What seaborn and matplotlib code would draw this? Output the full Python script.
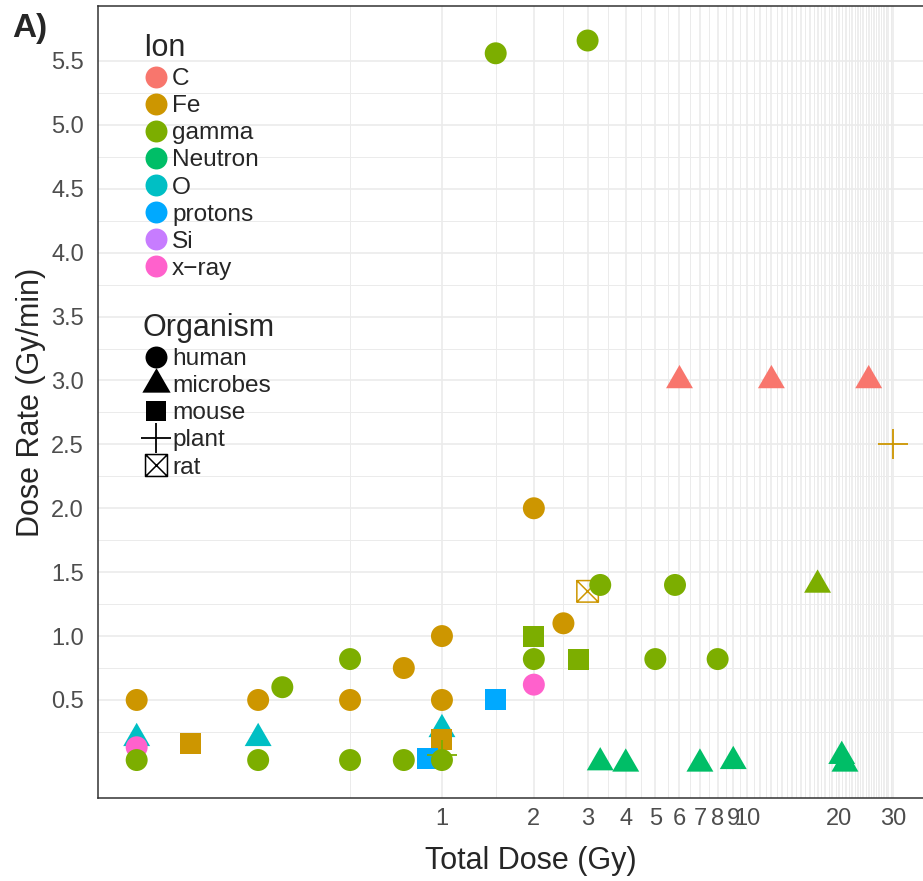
import numpy as np
import pandas as pd
import matplotlib
matplotlib.use("Agg")
import matplotlib.pyplot as plt
import seaborn as sns
from matplotlib.path import Path
from matplotlib.lines import Line2D
from matplotlib.ticker import NullFormatter

# legend levels
ions = ['C', 'Fe', 'gamma', 'Neutron', 'O', 'protons', 'Si', 'x-ray']
ion_labels = ['C', 'Fe', 'gamma', 'Neutron', 'O', 'protons', 'Si', 'x\u2212ray']
ion_colors = ['#F8766D', '#CD9600', '#7CAE00', '#00BE67', '#00BFC4', '#00A9FF', '#C77CFF', '#FF61CC']
organisms = ['human', 'microbes', 'mouse', 'plant', 'rat']

# points
ion = ['gamma', 'gamma', 'C', 'C', 'C', 'Fe', 'Fe', 'Fe', 'gamma', 'gamma',
       'gamma', 'Fe', 'gamma', 'Fe', 'gamma', 'gamma', 'gamma', 'gamma', 'gamma', 'Fe',
       'x-ray', 'gamma', 'Fe', 'Fe', 'Fe', 'Fe', 'protons', 'O', 'O', 'O',
       'x-ray', 'Fe', 'Fe', 'protons', 'gamma', 'gamma', 'gamma', 'gamma', 'gamma', 'gamma',
       'Neutron', 'Neutron', 'Neutron', 'Neutron', 'Neutron', 'Neutron']
organism = ['human', 'human', 'microbes', 'microbes', 'microbes', 'plant', 'human', 'rat', 'human', 'human',
            'microbes', 'human', 'mouse', 'human', 'mouse', 'human', 'human', 'human', 'human', 'human',
            'human', 'human', 'human', 'human', 'human', 'human', 'mouse', 'microbes', 'microbes', 'microbes',
            'human', 'mouse', 'mouse', 'mouse', 'plant', 'human', 'human', 'human', 'human', 'human',
            'microbes', 'microbes', 'microbes', 'microbes', 'microbes', 'microbes']
total_dose = [1.5, 3, 6, 12, 25, 30, 2, 3, 3.3, 5.8,
              17, 2.5, 2, 1, 2.8, 0.5, 2, 5, 8, 0.75,
              2, 0.3, 0.1, 0.25, 0.5, 1, 1.5, 0.1, 0.25, 1,
              0.1, 0.15, 1, 0.9, 1, 0.1, 0.25, 0.5, 0.75, 1,
              3.3, 4, 7, 9, 20.4, 20.9]
dose_rate = [5.56, 5.66, 3.0, 3.0, 3.0, 2.5, 2.0, 1.35, 1.4, 1.4,
             1.4, 1.1, 1.0, 1.0, 0.82, 0.82, 0.82, 0.82, 0.82, 0.75,
             0.62, 0.6, 0.5, 0.5, 0.5, 0.5, 0.5, 0.2, 0.2, 0.27,
             0.13, 0.16, 0.19, 0.04, 0.07, 0.03, 0.03, 0.03, 0.03, 0.03,
             0.01, 0.0, 0.0, 0.02, 0.06, 0.0]

x_ticks = list(range(1, 31))
x_labels = ['1', '2', '3', '4', '5', '6', '7', '8', '9', '10',
            '', '', '', '', '', '', '', '', '', '20',
            '', '', '', '', '', '', '', '', '', '30']
x_minor = [0.5, 1.5, 2.5, 3.5, 4.5, 5.5, 6.5, 7.5, 8.5, 9.5, 10.5, 11.5, 12.5, 13.5, 14.5,
           15.5, 16.5, 17.5, 18.5, 19.5, 20.5, 21.5, 22.5, 23.5, 24.5, 25.5, 26.5, 27.5, 28.5, 29.5]
y_ticks = [0.5, 1.0, 1.5, 2.0, 2.5, 3.0, 3.5, 4.0, 4.5, 5.0, 5.5]
y_minor = [0.25, 0.75, 1.25, 1.75, 2.25, 2.75, 3.25, 3.75, 4.25, 4.75, 5.25]

df = pd.DataFrame({'Ion': ion, 'Organism': organism,
                   'Total Dose (Gy)': total_dose, 'Dose Rate (Gy/min)': dose_rate})
palette = dict(zip(ions, ion_colors))

# ggplot style shapes
tri = Path([(0, 1.555), (1.347, -0.778), (-1.347, -0.778), (0, 1.555)],
           [Path.MOVETO, Path.LINETO, Path.LINETO, Path.CLOSEPOLY])
box_x = Path([(-1, -1), (1, -1), (1, 1), (-1, 1), (-1, -1), (-1, -1), (1, 1), (-1, 1), (1, -1)],
             [Path.MOVETO, Path.LINETO, Path.LINETO, Path.LINETO, Path.CLOSEPOLY,
              Path.MOVETO, Path.LINETO, Path.MOVETO, Path.LINETO])
org_marker = {'human': 'o', 'microbes': tri, 'mouse': 's', 'plant': '+', 'rat': box_x}
org_size = {'human': 250, 'microbes': 500, 'mouse': 228, 'plant': 467, 'rat': 240}

sns.set_style("white")
plt.rcParams['font.family'] = ['Liberation Sans', 'DejaVu Sans']

fig = plt.figure(figsize=(9.23, 8.81), dpi=100)
ax = fig.add_axes([98 / 923, 1 - 798 / 881, 866 / 923, 792 / 881])

for org in ['microbes', 'mouse', 'plant', 'rat', 'human']:
    sub = df[df['Organism'] == org]
    lw = 0
    if org == 'plant':
        lw = 1.3
    if org == 'rat':
        lw = 1.1
    sns.scatterplot(data=sub, x='Total Dose (Gy)', y='Dose Rate (Gy/min)', hue='Ion',
                    palette=palette, marker=org_marker[org], s=org_size[org],
                    linewidth=lw, legend=False, ax=ax, zorder=3)
    if org == 'rat':
        coll = ax.collections[-1]
        fc = coll.get_facecolors()
        coll.set_edgecolors(fc)
        coll.set_facecolors('none')

ax.set_xscale('log')
ax.set_xlim(0.0747, 51.3)
ax.set_ylim(-0.267, 5.93)
ax.set_xticks(x_ticks)
ax.set_xticklabels(x_labels)
ax.set_xticks(x_minor, minor=True)
ax.xaxis.set_minor_formatter(NullFormatter())
ax.set_yticks(y_ticks)
ax.set_yticklabels(['%.1f' % v for v in y_ticks])
ax.set_yticks(y_minor, minor=True)
ax.tick_params(which='major', length=5, width=1, color='#333333', labelsize=17,
               labelcolor='#4D4D4D', pad=2)
ax.tick_params(axis='y', which='major', pad=5)
ax.tick_params(which='minor', length=0)
ax.grid(which='major', color='#EBEBEB', lw=1.2)
ax.grid(which='minor', color='#EBEBEB', lw=0.7)
for side in ['top', 'bottom', 'left', 'right']:
    ax.spines[side].set_color('#333333')
    ax.spines[side].set_linewidth(1.1)

ax.set_xlabel('Total Dose (Gy)', fontsize=22, labelpad=12)
ax.set_ylabel('Dose Rate (Gy/min)', fontsize=22, labelpad=4)

ion_handles = [Line2D([], [], ls='', marker='o', markersize=15.8, markerfacecolor=c,
                      markeredgewidth=0) for c in ion_colors]
leg1 = ax.legend(ion_handles, ion_labels, title='Ion', loc='upper left',
                 bbox_to_anchor=(143 / 923, 1 - 33 / 881), bbox_transform=fig.transFigure,
                 frameon=False, fontsize=17.6, title_fontsize=22, alignment='left',
                 borderpad=0, borderaxespad=0, labelspacing=0.205, handlelength=1.07,
                 handletextpad=0.12, numpoints=1)
ax.add_artist(leg1)

org_handles = [
    Line2D([], [], ls='', marker='o', markersize=15.8, color='black', markeredgewidth=0),
    Line2D([], [], ls='', marker=tri, markersize=23.5, color='black', markeredgewidth=0),
    Line2D([], [], ls='', marker='s', markersize=15.1, color='black', markeredgewidth=0),
    Line2D([], [], ls='', marker='+', markersize=21.6, color='black', markeredgewidth=1.3),
    Line2D([], [], ls='', marker=box_x, markersize=15.8, markerfacecolor='none',
           markeredgecolor='black', markeredgewidth=1.1),
]
ax.legend(org_handles, organisms, title='Organism', loc='upper left',
          bbox_to_anchor=(143 / 923, 1 - 313 / 881), bbox_transform=fig.transFigure,
          frameon=False, fontsize=17.6, title_fontsize=22, alignment='left',
          borderpad=0, borderaxespad=0, labelspacing=0.205, handlelength=1.07,
          handletextpad=0.12, numpoints=1)

fig.text(12 / 923, 1 - 37 / 881, 'A)', fontsize=24, fontweight='bold', va='baseline')

fig.savefig('out.png', dpi=100)
